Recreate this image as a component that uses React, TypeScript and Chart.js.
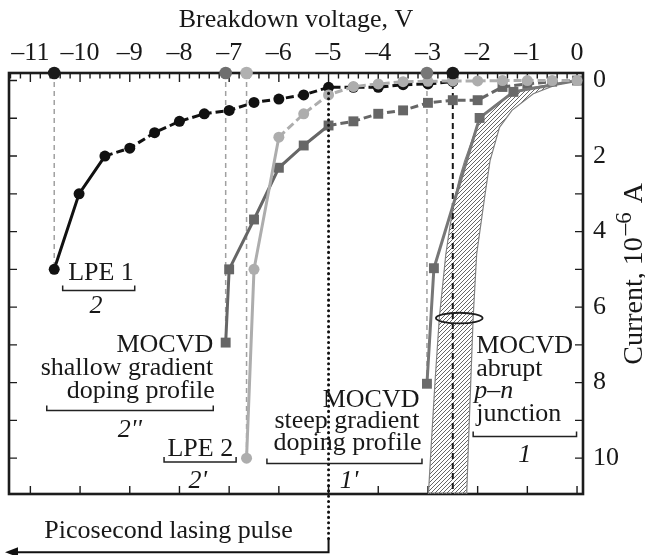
import { useEffect, useRef } from 'react';
import { Chart, registerables } from 'chart.js';

Chart.register(...registerables);

const FONT = '"Liberation Serif", "Times New Roman", serif';
const INK = '#1c1c1c';
const TEXT = '#181818';

// ---- axes ----
const xMin = -11.43;
const xMax = 0.12;
const yMin = -0.2;
const yMax = 10.95;
const xTickValues = [-11, -10, -9, -8, -7, -6, -5, -4, -3, -2, -1, 0];
const xTickLabels = ['–11', '–10', '–9', '–8', '–7', '–6', '–5', '–4', '–3', '–2', '–1', '0'];
const yTickValues = [0, 2, 4, 6, 8, 10];
const yTickLabels = ['0', '2', '4', '6', '8', '10'];

// ---- series: LPE 1 (curve 2) ----
const lpe1X = [-10.52, -10.02, -9.5, -9.0, -8.5, -8.0, -7.5, -7.0, -6.5, -6.0, -5.5, -5.0, -4.5, -4.0, -3.5, -3.0, -2.5];
const lpe1Y = [5.0, 3.0, 2.0, 1.79, 1.38, 1.08, 0.88, 0.79, 0.58, 0.49, 0.38, 0.18, 0.18, 0.18, 0.11, 0.09, 0.03];

// ---- series: LPE 2 (curve 2') ----
const lpe2X = [-6.65, -6.5, -6.0, -5.5, -5.0, -4.5, -4.0, -3.5, -3.0, -2.5, -2.0, -1.5, -1.0, -0.5, 0];
const lpe2Y = [10.0, 5.0, 1.5, 0.88, 0.38, 0.16, 0.09, 0.03, 0.02, 0.01, 0.01, 0.0, 0.0, 0.0, 0.0];

// ---- series: MOCVD shallow gradient (curve 2'') ----
const shallowX = [-7.07, -7.0, -6.5, -6.0, -5.5, -5.0, -4.5, -4.0, -3.5, -3.0, -2.5, -2.0, -1.5, -1.0, -0.5, 0];
const shallowY = [6.94, 5.0, 3.68, 2.31, 1.72, 1.19, 1.08, 0.88, 0.79, 0.59, 0.52, 0.52, 0.17, 0.09, 0.03, 0.0];

// ---- series: MOCVD steep gradient (curve 1') ----
const steepX = [-3.02, -2.88, -1.96, -1.28, 0];
const steepY = [8.03, 4.97, 0.99, 0.3, 0.0];

// ---- MOCVD abrupt p-n junction band (curve 1) ----
const bandLeftX = [0, -0.89, -1.28, -1.62, -1.92, -2.02, -2.14, -2.26, -2.36, -2.44, -2.56, -2.64, -2.77, -2.86, -2.94, -2.99];
const bandLeftY = [0, 0.18, 0.35, 0.62, 0.97, 1.24, 1.68, 2.12, 2.56, 3.0, 3.88, 4.6, 6.27, 8.03, 9.8, 10.95];
const bandRightX = [0, -0.4, -0.88, -1.31, -1.56, -1.75, -1.85, -2.02, -2.09, -2.14, -2.19, -2.22];
const bandRightY = [0, 0.1, 0.35, 0.79, 1.24, 2.12, 3.0, 4.6, 6.27, 8.03, 9.8, 10.95];

// ---- breakdown voltages marked on the top axis ----
const breakdownX = [-10.52, -7.07, -6.65, -3.02, -2.5];
const breakdownEndY = [5.0, 6.94, 10.0, 8.03, 10.95];
const breakdownColors = ['#1a1a1a', '#6e6e6e', '#b0b0b0', '#777777', '#1a1a1a'];

// ---- annotations (data coordinates) ----
type Txt = { t: string; x: number; y: number; align: CanvasTextAlign; italic?: boolean };
const labels: Txt[] = [
  { t: 'LPE 1', x: -10.24, y: 5.28, align: 'left' },
  { t: '2', x: -9.68, y: 6.16, align: 'center', italic: true },
  { t: 'MOCVD', x: -7.32, y: 7.18, align: 'right' },
  { t: 'shallow gradient', x: -7.32, y: 7.8, align: 'right' },
  { t: 'doping profile', x: -7.29, y: 8.41, align: 'right' },
  { t: "2''", x: -9.0, y: 9.43, align: 'center', italic: true },
  { t: 'LPE 2', x: -6.92, y: 9.94, align: 'right' },
  { t: "2'", x: -7.63, y: 10.8, align: 'center', italic: true },
  { t: 'MOCVD', x: -3.17, y: 8.64, align: 'right' },
  { t: 'steep gradient', x: -3.17, y: 9.21, align: 'right' },
  { t: 'doping profile', x: -3.13, y: 9.79, align: 'right' },
  { t: "1'", x: -4.59, y: 10.8, align: 'center', italic: true },
  { t: 'MOCVD', x: -2.03, y: 7.22, align: 'left' },
  { t: 'abrupt', x: -2.03, y: 7.82, align: 'left' },
  { t: 'p–n', x: -2.07, y: 8.42, align: 'left', italic: true },
  { t: 'junction', x: -2.03, y: 9.02, align: 'left' },
  { t: '1', x: -1.05, y: 10.1, align: 'center', italic: true },
  { t: 'Picosecond lasing pulse', x: -10.72, y: 12.11, align: 'left' },
];
const brackets = [
  { x1: -10.35, x2: -8.9, y: 5.56 },
  { x1: -10.67, x2: -7.32, y: 8.74 },
  { x1: -8.31, x2: -6.86, y: 10.1 },
  { x1: -6.24, x2: -3.12, y: 10.14 },
  { x1: -2.09, x2: -0.01, y: 9.43 },
];
const ellipse = { x: -2.37, y: 6.29, rx: 0.47, ry: 0.14 };
const pulse = { x: -5, yTop: 0.18, yDotEnd: 12.17, yLine: 12.49, xTip: -11.51 };
const rightTitle = { main: 'Current, 10', sup: '–6', tail: ' A', yCenter: 5.12 };

const pts = (xs: number[], ys: number[]) => xs.map((x, i) => ({ x, y: ys[i] }));

const decor = {
  id: 'decor',
  beforeDatasetsDraw(chart: any) {
    const { ctx, chartArea: a, scales } = chart;
    const sx = scales.x;
    const sy = scales.y;
    ctx.save();
    ctx.strokeStyle = INK;
    ctx.lineWidth = 1.4;
    ctx.beginPath();
    for (let i = Math.ceil(xMin * 5); i <= Math.floor(xMax * 5); i++) {
      const px = sx.getPixelForValue(i / 5);
      const major = i % 5 === 0;
      ctx.moveTo(px, a.top);
      ctx.lineTo(px, a.top + (major ? 9 : 5.5));
      if (major) {
        ctx.moveTo(px, a.bottom);
        ctx.lineTo(px, a.bottom - 8);
      }
    }
    for (let v = 0; v <= 10; v++) {
      const py = sy.getPixelForValue(v);
      ctx.moveTo(a.left, py);
      ctx.lineTo(a.left + 8, py);
      ctx.moveTo(a.right, py);
      ctx.lineTo(a.right - 8, py);
    }
    ctx.stroke();
    ctx.lineWidth = 2.6;
    ctx.strokeRect(a.left, a.top, a.right - a.left, a.bottom - a.top);
    ctx.restore();
  },
  afterDraw(chart: any) {
    const { ctx, scales } = chart;
    const sx = scales.x;
    const sy = scales.y;
    const X = (v: number) => sx.getPixelForValue(v);
    const Y = (v: number) => sy.getPixelForValue(v);
    ctx.save();
    // ellipse around band
    ctx.strokeStyle = INK;
    ctx.lineWidth = 1.8;
    ctx.beginPath();
    const ex = X(ellipse.x);
    const ey = Y(ellipse.y);
    const erx = Math.abs(X(ellipse.x + ellipse.rx) - ex);
    const ery = Math.abs(Y(ellipse.y + ellipse.ry) - ey);
    ctx.ellipse(ex, ey, erx, ery, 0, 0, Math.PI * 2);
    ctx.stroke();

    // picosecond pulse dotted line + arrow
    const px = X(pulse.x);
    ctx.strokeStyle = '#111';
    ctx.lineWidth = 3;
    ctx.lineCap = 'round';
    ctx.setLineDash([0.1, 5.2]);
    ctx.beginPath();
    ctx.moveTo(px, Y(pulse.yTop) + 6);
    ctx.lineTo(px, Y(pulse.yDotEnd));
    ctx.stroke();
    ctx.setLineDash([]);
    ctx.lineCap = 'butt';
    ctx.lineWidth = 2;
    const ly = Y(pulse.yLine);
    const tip = X(pulse.xTip);
    ctx.beginPath();
    ctx.moveTo(px, Y(pulse.yDotEnd));
    ctx.lineTo(px, ly);
    ctx.lineTo(tip + 10, ly);
    ctx.stroke();
    ctx.fillStyle = '#111';
    ctx.beginPath();
    ctx.moveTo(tip, ly);
    ctx.lineTo(tip + 13, ly - 5);
    ctx.lineTo(tip + 13, ly + 5);
    ctx.closePath();
    ctx.fill();

    // brackets
    ctx.lineWidth = 1.5;
    ctx.strokeStyle = '#222';
    for (const b of brackets) {
      const by = Y(b.y);
      ctx.beginPath();
      ctx.moveTo(X(b.x1), by - 5);
      ctx.lineTo(X(b.x1), by);
      ctx.lineTo(X(b.x2), by);
      ctx.lineTo(X(b.x2), by - 5);
      ctx.stroke();
    }

    // labels
    ctx.fillStyle = TEXT;
    ctx.textBaseline = 'alphabetic';
    for (const l of labels) {
      ctx.font = `${l.italic ? 'italic ' : ''}26px ${FONT}`;
      ctx.textAlign = l.align;
      ctx.fillText(l.t, X(l.x), Y(l.y));
    }

    // right axis title (rotated, reads bottom to top)
    ctx.translate(chart.width - 3, Y(rightTitle.yCenter));
    ctx.rotate(-Math.PI / 2);
    ctx.textAlign = 'left';
    const fMain = `28px ${FONT}`;
    const fSup = `23px ${FONT}`;
    const gap = 2;
    ctx.font = fMain;
    const w1 = ctx.measureText(rightTitle.main).width;
    const w3 = ctx.measureText(rightTitle.tail).width;
    ctx.font = fSup;
    const w2 = ctx.measureText(rightTitle.sup).width;
    let cx = -(w1 + w2 + w3 + 2 * gap) / 2;
    ctx.font = fMain;
    ctx.fillText(rightTitle.main, cx, 0);
    cx += w1 + gap;
    ctx.font = fSup;
    ctx.fillText(rightTitle.sup, cx, -11);
    cx += w2 + gap;
    ctx.font = fMain;
    ctx.fillText(rightTitle.tail, cx, 0);
    ctx.restore();
  },
};

export default function App() {
  const ref = useRef<HTMLCanvasElement | null>(null);
  useEffect(() => {
    const canvas = ref.current;
    if (!canvas) return;
    const ctx2 = canvas.getContext('2d')!;
    const pc = document.createElement('canvas');
    pc.width = 4;
    pc.height = 4;
    const g = pc.getContext('2d')!;
    g.strokeStyle = '#666';
    g.lineWidth = 1;
    g.beginPath();
    g.moveTo(0, 4);
    g.lineTo(4, 0);
    g.moveTo(-1, 1);
    g.lineTo(1, -1);
    g.moveTo(3, 5);
    g.lineTo(5, 3);
    g.stroke();
    const hatch = ctx2.createPattern(pc, 'repeat');

    const band = [
      ...pts(bandLeftX, bandLeftY),
      ...pts(bandRightX, bandRightY).reverse(),
    ];

    const dashFrom = (k: number, dash: number[]) => ({
      borderDash: (c: any) => (c.p0DataIndex >= k ? dash : undefined),
    });

    const vLines = breakdownX.map((bx, i) => ({
      data: [
        { x: bx, y: yMin },
        { x: bx, y: breakdownEndY[i] },
      ],
      borderColor: i === 4 ? '#1a1a1a' : '#a0a0a0',
      borderWidth: i === 4 ? 2 : 1.5,
      borderDash: i === 4 ? [6, 4] : [5, 4],
      pointRadius: 0,
      order: 8,
    }));

    const chart = new Chart(canvas, {
      type: 'line',
      data: {
        datasets: [
          {
            data: band,
            fill: 'shape',
            backgroundColor: hatch as any,
            borderColor: '#808080',
            borderWidth: 1.2,
            pointRadius: 0,
            order: 10,
          } as any,
          ...vLines,
          {
            data: pts(lpe1X, lpe1Y),
            borderColor: '#111',
            backgroundColor: '#111',
            borderWidth: 3,
            pointRadius: 5.5,
            pointBorderWidth: 0,
            segment: dashFrom(2, [8, 4]),
            order: 5,
          },
          {
            data: pts(shallowX, shallowY),
            borderColor: '#666',
            backgroundColor: '#666',
            borderWidth: 3,
            pointStyle: 'rect',
            pointRadius: 7,
            pointBorderWidth: 0,
            segment: dashFrom(5, [8, 4]),
            order: 4,
          },
          {
            data: pts(steepX, steepY),
            borderColor: '#777',
            backgroundColor: '#6a6a6a',
            borderWidth: 3,
            pointStyle: 'rect',
            pointRadius: [7, 7, 7, 7, 0],
            pointBorderWidth: 0,
            order: 3,
          },
          {
            data: pts(lpe2X, lpe2Y),
            borderColor: '#adadad',
            backgroundColor: '#adadad',
            borderWidth: 3,
            pointRadius: 5.5,
            pointBorderWidth: 0,
            segment: dashFrom(2, [8, 4]),
            order: 2,
          },
          {
            data: breakdownX.map((bx) => ({ x: bx, y: yMin })),
            showLine: false,
            backgroundColor: breakdownColors,
            borderColor: breakdownColors,
            pointRadius: 6.3,
            pointBorderWidth: 0,
            clip: false as any,
            order: 1,
          },
        ] as any,
      },
      options: {
        animation: false,
        responsive: false,
        events: [],
        layout: { padding: { left: 9, right: 0, top: 0, bottom: 61 } },
        plugins: { legend: { display: false }, tooltip: { enabled: false } },
        scales: {
          x: {
            type: 'linear',
            position: 'top',
            min: xMin,
            max: xMax,
            afterBuildTicks: (s: any) => {
              s.ticks = xTickValues.map((v) => ({ value: v }));
            },
            afterFit: (s: any) => {
              s.height = 73;
              s.paddingLeft = 0;
              s.paddingRight = 0;
            },
            grid: { display: false, drawTicks: false },
            border: { display: false },
            ticks: {
              callback: (_v: any, i: number) => xTickLabels[i],
              font: { family: FONT, size: 26 },
              color: TEXT,
              padding: 4,
              maxRotation: 0,
              autoSkip: false,
            },
            title: {
              display: true,
              text: 'Breakdown voltage, V',
              font: { family: FONT, size: 26 },
              color: TEXT,
              padding: { top: 5, bottom: 0 },
            },
          },
          y: {
            type: 'linear',
            position: 'right',
            min: yMin,
            max: yMax,
            reverse: true,
            afterBuildTicks: (s: any) => {
              s.ticks = yTickValues.map((v) => ({ value: v }));
            },
            afterFit: (s: any) => {
              s.width = 62;
            },
            grid: { display: false, drawTicks: false },
            border: { display: false },
            ticks: {
              callback: (_v: any, i: number) => yTickLabels[i],
              font: { family: FONT, size: 26 },
              color: TEXT,
              padding: 10,
              autoSkip: false,
            },
          },
        },
      } as any,
      plugins: [decor],
    });
    return () => chart.destroy();
  }, []);

  return (
    <div style={{ position: 'absolute', left: 0, top: 0, width: 645, height: 555, background: '#fff' }}>
      <canvas ref={ref} width={645} height={555} style={{ display: 'block' }} />
    </div>
  );
}
